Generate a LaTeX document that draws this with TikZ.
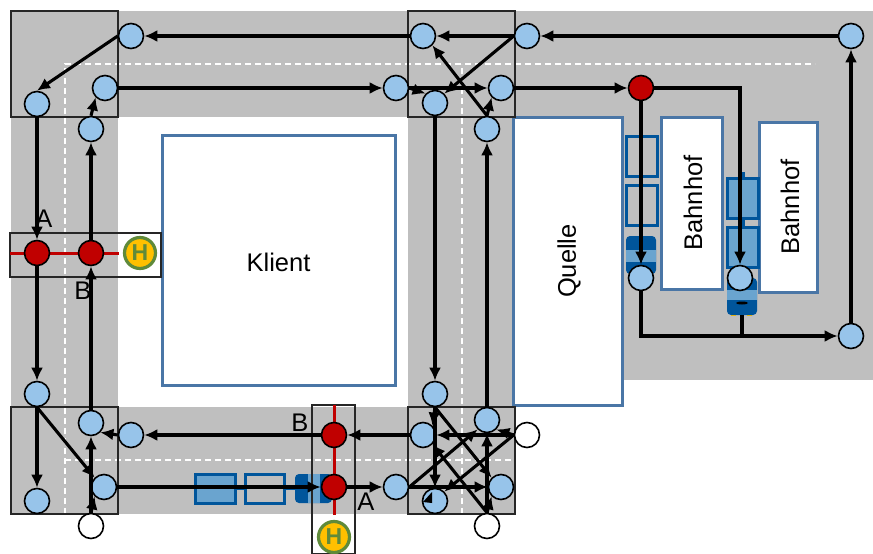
\documentclass[tikz,border=0pt]{standalone}
\usepackage{xcolor}
\usepackage{fontspec}
\setmainfont{Liberation Sans}
\usetikzlibrary{arrows.meta}
\definecolor{roadgray}{HTML}{BFBFBF}
\definecolor{stopblue}{HTML}{97C4EA}
\definecolor{signalred}{HTML}{C00000}
\definecolor{framblue}{HTML}{4A76A6}
\definecolor{traindark}{HTML}{00559B}
\definecolor{trainlight}{HTML}{6AA4CF}
\definecolor{haltgreen}{HTML}{5F8A3A}
\definecolor{haltyellow}{HTML}{FFC000}
\tikzset{
  stopnode/.style={circle,draw=black,line width=1.6pt,fill=stopblue,minimum size=25pt,inner sep=0pt},
  signalnode/.style={stopnode,fill=signalred},
  opennode/.style={stopnode,fill=white},
  haltnode/.style={circle,draw=haltgreen,line width=3.2pt,fill=haltyellow,minimum size=31pt,inner sep=0pt,text=haltgreen,font=\fontsize{23}{23}\selectfont\bfseries},
  link/.style={line width=3.1pt,draw=black},
  arrowlink/.style={link,-{Latex[length=13pt,width=12pt]}},
  crossing/.style={draw=black!85,line width=1.2pt},
  house/.style={draw=framblue,line width=3pt,fill=white},
  label/.style={font=\fontsize{25.5}{25.5}\selectfont,inner sep=0pt},
  wagon/.style={draw=traindark,line width=3pt},
  fullwagon/.style={wagon,fill=trainlight},
  lane/.style={draw=white,line width=1.3pt,dash pattern=on 6pt off 4pt}
}
\begin{document}
\begin{tikzpicture}[x=1pt,y=-1pt]
\useasboundingbox (0,0) rectangle (873,554);

\fill[roadgray] (11,11) rectangle (873,117);
\fill[roadgray] (11,11) rectangle (118,514);
\fill[roadgray] (11,407) rectangle (515,514);
\fill[roadgray] (408,11) rectangle (515,514);
\fill[roadgray] (622,11) rectangle (873,380);

\draw[lane] (65,514) -- (65,64) -- (815,64);
\draw[lane] (65,460) -- (515,460);
\draw[lane] (462,514) -- (462,64);

\draw[house] (162,135) rectangle (395,385);
\draw[house] (513,117) rectangle (622,405);
\draw[house] (661,117) rectangle (722,289);
\draw[house] (759,122) rectangle (817,292);
\node[label] (klient) at (278.5,262) {Klient};
\node[label,rotate=90] (quelle) at (569,261) {Quelle};
\node[label,rotate=90] (bahnhofa) at (693,203) {Bahnhof};
\node[label,rotate=90] (bahnhofb) at (790,207) {Bahnhof};

% train in the lower street
\fill[traindark] (235,486) rectangle (245,490);
\fill[traindark] (284,486) rectangle (296,490);
\draw[fullwagon] (195,474) rectangle (235,503);
\draw[wagon] (245,474) rectangle (284,503);
\fill[traindark,rounded corners=4pt] (295,474) rectangle (332,503);
\fill[trainlight] (308,474) rectangle (320,503);

% train on the first platform
\fill[traindark] (639,129) rectangle (643,136);
\fill[traindark] (639,176) rectangle (643,185);
\fill[traindark] (639,225) rectangle (643,236);
\draw[wagon] (626,136) rectangle (657,176);
\draw[wagon] (626,185) rectangle (657,225);
\fill[traindark,rounded corners=4pt] (626,236) rectangle (656,274);
\fill[trainlight] (626,250) rectangle (656,262);

% train on the second platform
\fill[traindark] (741,172) rectangle (745,178);
\fill[traindark] (741,218) rectangle (745,227);
\draw[fullwagon] (727,178) rectangle (758,218);
\draw[fullwagon] (727,227) rectangle (758,267);
\fill[haltyellow] (731,312) rectangle (736,316);
\fill[haltyellow] (747,312) rectangle (752,316);
\fill[traindark,rounded corners=4pt] (727,278) rectangle (757,315);
\fill[trainlight] (727,290) rectangle (757,300);
\fill[black] (742,303) ellipse (6pt and 1.5pt);
\coordinate (loco) at (742,315);

\draw[crossing] (11,11) rectangle (118,117);
\draw[crossing] (408,11) rectangle (515,117);
\draw[crossing] (11,407) rectangle (118,514);
\draw[crossing] (408,407) rectangle (515,514);
\draw[crossing] (10,233) rectangle (161,277);
\draw[crossing] (312,405) rectangle (355,554);

\draw[signalred,line width=3pt] (10,253) -- (119,253);
\draw[signalred,line width=3pt] (334,405) -- (334,515);

\node[label] (labela) at (44,219) {A};
\node[label] (labelb) at (83,291) {B};
\node[label] (labelc) at (300,423) {B};
\node[label] (labeld) at (366,502) {A};

\node[haltnode] (halta) at (140,253) {H};
\node[haltnode] (haltb) at (334,537) {H};

\node[stopnode] (tla) at (131,36) {};
\node[stopnode] (tlb) at (37,104) {};
\node[stopnode] (tlc) at (105,88) {};
\node[stopnode] (tld) at (91,129) {};
\node[stopnode] (tma) at (423,36) {};
\node[stopnode] (tmb) at (527,36) {};
\node[stopnode] (tmc) at (396,88) {};
\node[stopnode] (tmd) at (435,103) {};
\node[stopnode] (tme) at (501,88) {};
\node[stopnode] (tmf) at (487,129) {};
\node[stopnode] (tra) at (851,36) {};
\node[stopnode] (trb) at (851,336) {};
\node[stopnode] (gla) at (641,278) {};
\node[stopnode] (glb) at (740,278) {};
\node[stopnode] (bla) at (37,394) {};
\node[stopnode] (blb) at (91,423) {};
\node[stopnode] (blc) at (131,435) {};
\node[stopnode] (bld) at (104,487) {};
\node[stopnode] (ble) at (37,501) {};
\node[stopnode] (bma) at (435,394) {};
\node[stopnode] (bmb) at (423,435) {};
\node[stopnode] (bmc) at (487,420) {};
\node[stopnode] (bmd) at (396,487) {};
\node[stopnode] (bme) at (501,487) {};
\node[stopnode] (bmf) at (435,501) {};
\node[opennode] (ina) at (91,526) {};
\node[opennode] (inb) at (527,435) {};
\node[opennode] (inc) at (487,526) {};
\node[signalnode] (siga) at (37,253) {};
\node[signalnode] (sigb) at (91,253) {};
\node[signalnode] (sigc) at (334,435) {};
\node[signalnode] (sigd) at (334,487) {};
\node[signalnode] (sige) at (641,88) {};

\fill[black] (423,502) -- (432,503) -- (432,492) -- cycle;

\draw[arrowlink] (tra) -- (tmb);
\draw[arrowlink] (tmb) -- (tma);
\draw[arrowlink] (tma) -- (tla);
\draw[arrowlink] (tla.west) -- (tlb.north);
\draw[arrowlink] (tlb) -- (siga);
\draw[arrowlink] (siga) -- (bla);
\draw[arrowlink] (bla) -- (ble);
\draw[arrowlink] (bla.south) -- (bld.north west);
\draw[arrowlink] (blb) -- (sigb);
\draw[arrowlink] (sigb) -- (tld);
\draw[arrowlink] (tld.north) -- (tlc.south west);
\draw[arrowlink] (tlc) -- (tmc);
\draw[arrowlink] (tmc.east) -- (tmd.north west);
\draw[arrowlink] (tmc) -- (tme);
\draw[arrowlink] (tmb.west) -- (tmd.north east);
\draw[arrowlink] (tmf.north) -- (tma.south east);
\draw[arrowlink] (tmf.north) -- (tme.south west);
\draw[arrowlink] (tmd) -- (bma);
\draw[arrowlink] (bmc) -- (tmf);
\draw[arrowlink] (tme) -- (sige);
\draw[arrowlink] (sige) -- (gla);
\draw[arrowlink] (sige) -| (glb);
\draw[arrowlink] (gla) |- (trb);
\draw[link] (loco) -- (loco |- trb);
\draw[arrowlink] (trb) -- (tra);

\draw[arrowlink] (bmb) -- (sigc);
\draw[arrowlink] (sigc) -- (blc);
\draw[arrowlink] (blc.west) -- (blb.south east);
\draw[arrowlink] (ina.north) -- (blb.south);
\draw[arrowlink] (ina.north) -- (bld.south west);
\draw[arrowlink] (bld) -- (sigd);
\draw[arrowlink] (sigd) -- (bmd);
\draw[arrowlink] (bmd.east) -- (bme.west);
\draw[arrowlink] (bmd.east) -- (bmc.south west);
\draw[arrowlink] (inb.west) -- (bmb.east);
\draw[arrowlink] (inb.west) -- (bmc.south east);
\draw[arrowlink] (inb.west) -- (bmf.north east);
\draw[arrowlink] (inc.north) -- (bme.south west);
\draw[arrowlink] (inc.north) -- (bmc.south);
\draw[arrowlink] (inc.north) -- (bmb.south east);
\draw[arrowlink] (bma.south) -- (bmb.north east);
\draw[arrowlink] (bma.south) -- (bmf.north);
\draw[arrowlink] (bma.south) -- (bme.north west);
\end{tikzpicture}
\end{document}
